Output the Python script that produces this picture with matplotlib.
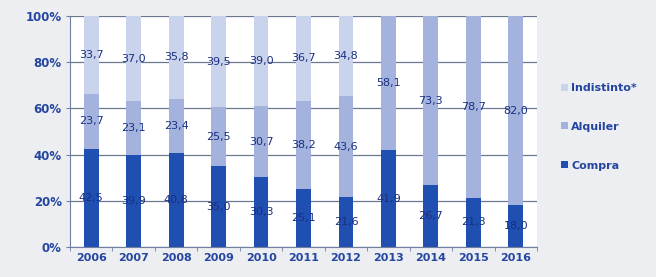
import matplotlib
matplotlib.use("Agg")
import matplotlib.pyplot as plt
import numpy as np

years = ["2006", "2007", "2008", "2009", "2010", "2011", "2012", "2013", "2014", "2015", "2016"]
compra = [42.5, 39.9, 40.8, 35.0, 30.3, 25.1, 21.6, 41.9, 26.7, 21.3, 18.0]
alquiler = [23.7, 23.1, 23.4, 25.5, 30.7, 38.2, 43.6, 58.1, 73.3, 78.7, 82.0]
indistinto = [33.7, 37.0, 35.8, 39.5, 39.0, 36.7, 34.8, 0, 0, 0, 0]
yticks = [0, 20, 40, 60, 80, 100]

c_compra = "#1f4fb0"
c_alq = "#a3b3de"
c_ind = "#c9d3eb"
txt = "#2446a0"
lbl = "#1a2f80"

fig = plt.figure(figsize=(6.56, 2.77), dpi=100)
fig.patch.set_facecolor("#eceef1")
ax = fig.add_axes([70/656, 1-247/277, (537-70)/656, (247-16)/277])
ax.set_facecolor("white")

x = np.arange(len(years))
w = 0.35
b1 = ax.bar(x, compra, w, color=c_compra, label="Compra", zorder=2)
b2 = ax.bar(x, alquiler, w, bottom=compra, color=c_alq, label="Alquiler", zorder=2)
bot3 = [a + b for a, b in zip(compra, alquiler)]
b3 = ax.bar(x, indistinto, w, bottom=bot3, color=c_ind, label="Indistinto*", zorder=2)

def fmt(v):
    return ("%.1f" % v).replace(".", ",")

for i in range(len(years)):
    ax.text(x[i], compra[i] / 2, fmt(compra[i]), ha="center", va="center",
            fontsize=8, color=lbl, zorder=3)
    ax.text(x[i], compra[i] + alquiler[i] / 2, fmt(alquiler[i]), ha="center", va="center",
            fontsize=8, color=lbl, zorder=3)
    if indistinto[i] > 0:
        ax.text(x[i], bot3[i] + indistinto[i] / 2, fmt(indistinto[i]), ha="center", va="center",
                fontsize=8, color=lbl, zorder=3)

ax.set_xlim(-0.5, len(years) - 0.5)
ax.set_ylim(0, 100)
ax.set_yticks(yticks)
ax.set_yticklabels(["%d%%" % v for v in yticks], color=txt, fontsize=8.5, fontweight="bold")
ax.set_xticks(x)
ax.set_xticklabels(years, color=txt, fontsize=8, fontweight="bold")
ax.tick_params(axis="x", length=0, pad=4)
ax.set_xticks(np.arange(-0.5, len(years), 1), minor=True)
ax.tick_params(axis="x", which="minor", length=3, color="#7080a0")
ax.tick_params(axis="y", length=3, color="#7080a0", pad=3)
ax.yaxis.grid(True, color="#6c7890", lw=0.9, zorder=1)
for s in ["top", "right"]:
    ax.spines[s].set_visible(False)
ax.spines["left"].set_color("#7080a0")
ax.spines["bottom"].set_color("#7080a0")

handles = [b3, b2, b1]
leg = ax.legend(handles, ["Indistinto*", "Alquiler", "Compra"], loc="center left",
                bbox_to_anchor=(1.03, 0.52), frameon=False, handlelength=0.6, handleheight=0.6,
                labelspacing=2.6, prop={"size": 8, "weight": "bold"}, handletextpad=0.3)
for t in leg.get_texts():
    t.set_color(txt)

fig.savefig("out.png", dpi=100, facecolor=fig.get_facecolor())
